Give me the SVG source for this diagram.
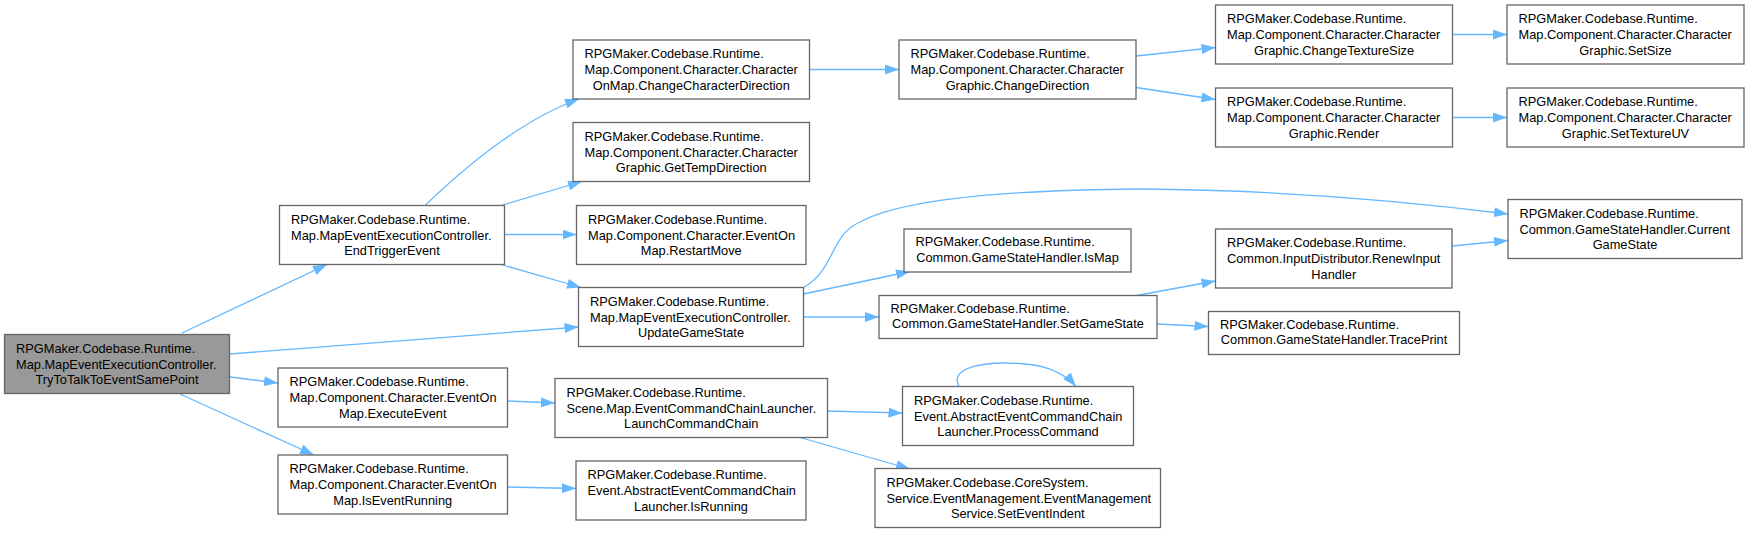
<svg xmlns="http://www.w3.org/2000/svg" width="1749" height="533" viewBox="0 0 1749 533">
<defs>
<style>
.node rect{fill:#ffffff;stroke:#666666;stroke-width:1.3}
#n_root rect{fill:#999999}
.node text{font-family:"Liberation Sans",Arial,sans-serif;font-size:12.8px;fill:#000000}
.edge{fill:none;stroke:#63b8ff;stroke-width:1.3;marker-end:url(#arr)}
</style>
<marker id="arr" viewBox="0 0 14 10" refX="14" refY="5" markerWidth="14" markerHeight="10" markerUnits="userSpaceOnUse" orient="auto">
<path d="M0,0 L14,5 L0,10 z" fill="#63b8ff"/>
</marker>
</defs>
<rect x="0" y="0" width="1749" height="533" fill="#ffffff"/>
<g id="edges">
<path class="edge" d="M182,333 L327,264.5"/>
<path class="edge" d="M230,354 L578.5,327"/>
<path class="edge" d="M230,377 L278,383"/>
<path class="edge" d="M180,394 L314,455"/>
<path class="edge" d="M425,205.5 C460,172 520,120 579,99"/>
<path class="edge" d="M501,205.5 L582,181.5"/>
<path class="edge" d="M504.5,234.5 L576.5,234.5"/>
<path class="edge" d="M501,264.5 L581,287.5"/>
<path class="edge" d="M507.5,401 L555,403"/>
<path class="edge" d="M507.5,487 L576,488.5"/>
<path class="edge" d="M809.5,69.5 L899,69.5"/>
<path class="edge" d="M1136,56 L1215.5,47.5"/>
<path class="edge" d="M1136,87.5 L1215.5,99.5"/>
<path class="edge" d="M1452.5,34.5 L1507,34.5"/>
<path class="edge" d="M1452.5,117.5 L1507,117.5"/>
<path class="edge" d="M803.5,287.5 C835,270 830,235 860,222 C900,200 1000,190 1140,189 C1290,190 1420,203 1508,214"/>
<path class="edge" d="M803.5,294 L910,271.5"/>
<path class="edge" d="M803.5,317 L879,317"/>
<path class="edge" d="M827.5,411 L902.5,413"/>
<path class="edge" d="M800,437.5 L910,469"/>
<path class="edge" d="M959,386.5 C950,370 975,363 1005,363 C1040,363 1062,370 1076,386.5"/>
<path class="edge" d="M1136.5,295.5 L1215.5,281"/>
<path class="edge" d="M1157,324 L1208.5,326.5"/>
<path class="edge" d="M1452,246 L1508,240.5"/>
</g>
<g id="n_root" class="node"><rect x="4.5" y="334.5" width="225" height="59"/><text><tspan x="16" y="352.9">RPGMaker.Codebase.Runtime.</tspan><tspan x="16" y="368.5">Map.MapEventExecutionController.</tspan><tspan x="117" y="384.1" text-anchor="middle">TryToTalkToEventSamePoint</tspan></text></g>
<g id="n_endTrigger" class="node"><rect x="279.5" y="205.5" width="225" height="59"/><text><tspan x="291" y="223.9">RPGMaker.Codebase.Runtime.</tspan><tspan x="291" y="239.5">Map.MapEventExecutionController.</tspan><tspan x="392" y="255.1" text-anchor="middle">EndTriggerEvent</tspan></text></g>
<g id="n_updateGameState" class="node"><rect x="578.5" y="287.5" width="225" height="59"/><text><tspan x="590" y="305.9">RPGMaker.Codebase.Runtime.</tspan><tspan x="590" y="321.5">Map.MapEventExecutionController.</tspan><tspan x="691" y="337.1" text-anchor="middle">UpdateGameState</tspan></text></g>
<g id="n_executeEvent" class="node"><rect x="278" y="368" width="229.5" height="59"/><text><tspan x="289.5" y="386.4">RPGMaker.Codebase.Runtime.</tspan><tspan x="289.5" y="402">Map.Component.Character.EventOn</tspan><tspan x="392.75" y="417.6" text-anchor="middle">Map.ExecuteEvent</tspan></text></g>
<g id="n_isEventRunning" class="node"><rect x="278" y="455" width="229.5" height="59"/><text><tspan x="289.5" y="473.4">RPGMaker.Codebase.Runtime.</tspan><tspan x="289.5" y="489">Map.Component.Character.EventOn</tspan><tspan x="392.75" y="504.6" text-anchor="middle">Map.IsEventRunning</tspan></text></g>
<g id="n_changeCharDir" class="node"><rect x="573" y="40" width="236.5" height="59"/><text><tspan x="584.5" y="58.4">RPGMaker.Codebase.Runtime.</tspan><tspan x="584.5" y="74">Map.Component.Character.Character</tspan><tspan x="691.25" y="89.6" text-anchor="middle">OnMap.ChangeCharacterDirection</tspan></text></g>
<g id="n_getTempDirection" class="node"><rect x="573" y="122.5" width="236.5" height="59"/><text><tspan x="584.5" y="140.9">RPGMaker.Codebase.Runtime.</tspan><tspan x="584.5" y="156.5">Map.Component.Character.Character</tspan><tspan x="691.25" y="172.1" text-anchor="middle">Graphic.GetTempDirection</tspan></text></g>
<g id="n_restartMove" class="node"><rect x="576.5" y="205.5" width="229.5" height="59"/><text><tspan x="588" y="223.9">RPGMaker.Codebase.Runtime.</tspan><tspan x="588" y="239.5">Map.Component.Character.EventOn</tspan><tspan x="691.25" y="255.1" text-anchor="middle">Map.RestartMove</tspan></text></g>
<g id="n_launchCommandChain" class="node"><rect x="555" y="378.5" width="272.5" height="59"/><text><tspan x="566.5" y="396.9">RPGMaker.Codebase.Runtime.</tspan><tspan x="566.5" y="412.5">Scene.Map.EventCommandChainLauncher.</tspan><tspan x="691.25" y="428.1" text-anchor="middle">LaunchCommandChain</tspan></text></g>
<g id="n_isRunning" class="node"><rect x="576" y="461" width="230" height="59"/><text><tspan x="587.5" y="479.4">RPGMaker.Codebase.Runtime.</tspan><tspan x="587.5" y="495">Event.AbstractEventCommandChain</tspan><tspan x="691" y="510.6" text-anchor="middle">Launcher.IsRunning</tspan></text></g>
<g id="n_changeDirection" class="node"><rect x="899" y="40" width="237" height="59"/><text><tspan x="910.5" y="58.4">RPGMaker.Codebase.Runtime.</tspan><tspan x="910.5" y="74">Map.Component.Character.Character</tspan><tspan x="1017.5" y="89.6" text-anchor="middle">Graphic.ChangeDirection</tspan></text></g>
<g id="n_isMap" class="node"><rect x="904" y="229" width="227" height="43"/><text><tspan x="915.5" y="246.2">RPGMaker.Codebase.Runtime.</tspan><tspan x="1017.5" y="261.8" text-anchor="middle">Common.GameStateHandler.IsMap</tspan></text></g>
<g id="n_setGameState" class="node"><rect x="879" y="295.5" width="278" height="43"/><text><tspan x="890.5" y="312.7">RPGMaker.Codebase.Runtime.</tspan><tspan x="1018" y="328.3" text-anchor="middle">Common.GameStateHandler.SetGameState</tspan></text></g>
<g id="n_processCommand" class="node"><rect x="902.5" y="386.5" width="231" height="59"/><text><tspan x="914" y="404.9">RPGMaker.Codebase.Runtime.</tspan><tspan x="914" y="420.5">Event.AbstractEventCommandChain</tspan><tspan x="1018" y="436.1" text-anchor="middle">Launcher.ProcessCommand</tspan></text></g>
<g id="n_setEventIndent" class="node"><rect x="875" y="468.5" width="285.5" height="59"/><text><tspan x="886.5" y="486.9">RPGMaker.Codebase.CoreSystem.</tspan><tspan x="886.5" y="502.5">Service.EventManagement.EventManagement</tspan><tspan x="1017.75" y="518.1" text-anchor="middle">Service.SetEventIndent</tspan></text></g>
<g id="n_changeTextureSize" class="node"><rect x="1215.5" y="5" width="237" height="59"/><text><tspan x="1227" y="23.4">RPGMaker.Codebase.Runtime.</tspan><tspan x="1227" y="39">Map.Component.Character.Character</tspan><tspan x="1334" y="54.6" text-anchor="middle">Graphic.ChangeTextureSize</tspan></text></g>
<g id="n_render" class="node"><rect x="1215.5" y="88" width="237" height="59"/><text><tspan x="1227" y="106.4">RPGMaker.Codebase.Runtime.</tspan><tspan x="1227" y="122">Map.Component.Character.Character</tspan><tspan x="1334" y="137.6" text-anchor="middle">Graphic.Render</tspan></text></g>
<g id="n_renewInputHandler" class="node"><rect x="1215.5" y="229" width="236.5" height="59"/><text><tspan x="1227" y="247.4">RPGMaker.Codebase.Runtime.</tspan><tspan x="1227" y="263">Common.InputDistributor.RenewInput</tspan><tspan x="1333.75" y="278.6" text-anchor="middle">Handler</tspan></text></g>
<g id="n_tracePrint" class="node"><rect x="1208.5" y="311.5" width="251" height="43"/><text><tspan x="1220" y="328.7">RPGMaker.Codebase.Runtime.</tspan><tspan x="1334" y="344.3" text-anchor="middle">Common.GameStateHandler.TracePrint</tspan></text></g>
<g id="n_setSize" class="node"><rect x="1507" y="5" width="237" height="59"/><text><tspan x="1518.5" y="23.4">RPGMaker.Codebase.Runtime.</tspan><tspan x="1518.5" y="39">Map.Component.Character.Character</tspan><tspan x="1625.5" y="54.6" text-anchor="middle">Graphic.SetSize</tspan></text></g>
<g id="n_setTextureUV" class="node"><rect x="1507" y="88" width="237" height="59"/><text><tspan x="1518.5" y="106.4">RPGMaker.Codebase.Runtime.</tspan><tspan x="1518.5" y="122">Map.Component.Character.Character</tspan><tspan x="1625.5" y="137.6" text-anchor="middle">Graphic.SetTextureUV</tspan></text></g>
<g id="n_currentGameState" class="node"><rect x="1508" y="199.5" width="234" height="59"/><text><tspan x="1519.5" y="217.9">RPGMaker.Codebase.Runtime.</tspan><tspan x="1519.5" y="233.5">Common.GameStateHandler.Current</tspan><tspan x="1625" y="249.1" text-anchor="middle">GameState</tspan></text></g>
</svg>
